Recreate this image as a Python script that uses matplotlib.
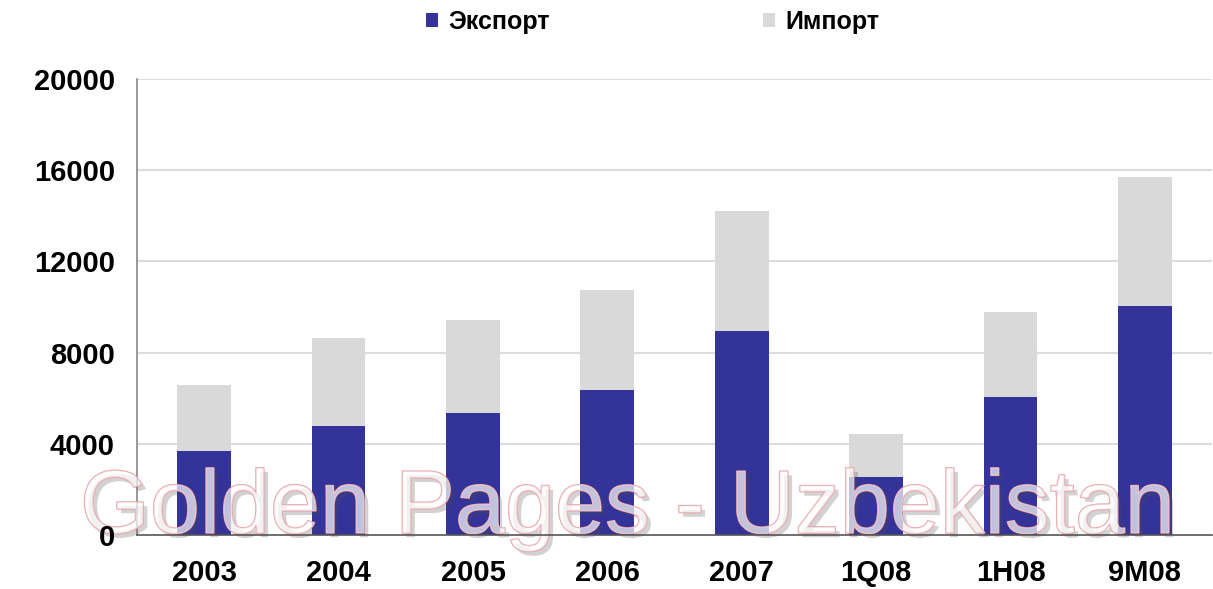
import matplotlib
matplotlib.use("Agg")
import matplotlib.pyplot as plt
import matplotlib.patheffects as pe
import numpy as np

categories = ["2003", "2004", "2005", "2006", "2007", "1Q08", "1H08", "9M08"]
export_vals = [3700, 4800, 5350, 6350, 8950, 2550, 6050, 10050]
total_vals = [6600, 8650, 9450, 10750, 14200, 4450, 9800, 15700]
import_vals = [t - e for t, e in zip(total_vals, export_vals)]
yticks = [0, 4000, 8000, 12000, 16000, 20000]
watermark = "Golden Pages - Uzbekistan"

plt.rcParams['font.family'] = ['Liberation Sans', 'DejaVu Sans']

fig = plt.figure(figsize=(12.13, 5.89), dpi=100)
ax = fig.add_axes([137/1213, 54/589, 1075/1213, 456/589])

x = np.arange(len(categories))
blue = "#333399"
grey = "#d9d9d9"
for yv in yticks[1:]:
    ax.axhline(yv, color="#dcdcdc", linewidth=1.5, zorder=0.5)
b1 = ax.bar(x, export_vals, width=0.4, color=blue, label="Экспорт", zorder=2)
b2 = ax.bar(x, import_vals, width=0.4, bottom=export_vals, color=grey, label="Импорт", zorder=2)

ax.set_xlim(-0.5, len(categories) - 0.5)
ax.set_ylim(0, 20000)
ax.set_yticks(yticks)
ax.set_yticklabels([str(v) for v in yticks])
ax.set_xticks(x)
ax.set_xticklabels(categories)
for s in ["top", "right"]:
    ax.spines[s].set_visible(False)
ax.spines["left"].set_color("#888888")
ax.spines["left"].set_linewidth(1.2)
ax.spines["bottom"].set_color("#555555")
ax.spines["bottom"].set_linewidth(1.2)
ax.spines["bottom"].set_zorder(4)
ax.tick_params(axis='y', length=0, pad=16, labelsize=21)
ax.tick_params(axis='x', length=0, pad=17, labelsize=21)
for lbl in ax.get_xticklabels() + ax.get_yticklabels():
    lbl.set_fontweight('bold')
ax.xaxis.set_zorder(4)
ax.yaxis.set_zorder(4)

leg = fig.legend(handles=[b1, b2], loc='upper center', bbox_to_anchor=(0.538, 1.022),
                 ncol=2, frameon=False, prop={'weight': 'bold', 'size': 18},
                 handlelength=0.5, handleheight=0.5, handletextpad=0.4,
                 columnspacing=8.5)

# watermark (above bars, below tick labels)
wm = ax.text(627/1213, 1 - 533/589, watermark, ha='center', va='baseline',
             transform=fig.transFigure, clip_on=False,
             fontsize=80, family=['Liberation Sans'],
             color=(1, 1, 1, 0.45), zorder=3,
             path_effects=[pe.SimplePatchShadow(offset=(3, -3), alpha=0.25),
                           pe.Stroke(linewidth=1.0, foreground="#e8a0a8"),
                           pe.Normal()])
fig.canvas.draw()
w = wm.get_window_extent().width
wm.set_fontsize(80 * 1095 / w)

fig.savefig("out.png", dpi=100)
